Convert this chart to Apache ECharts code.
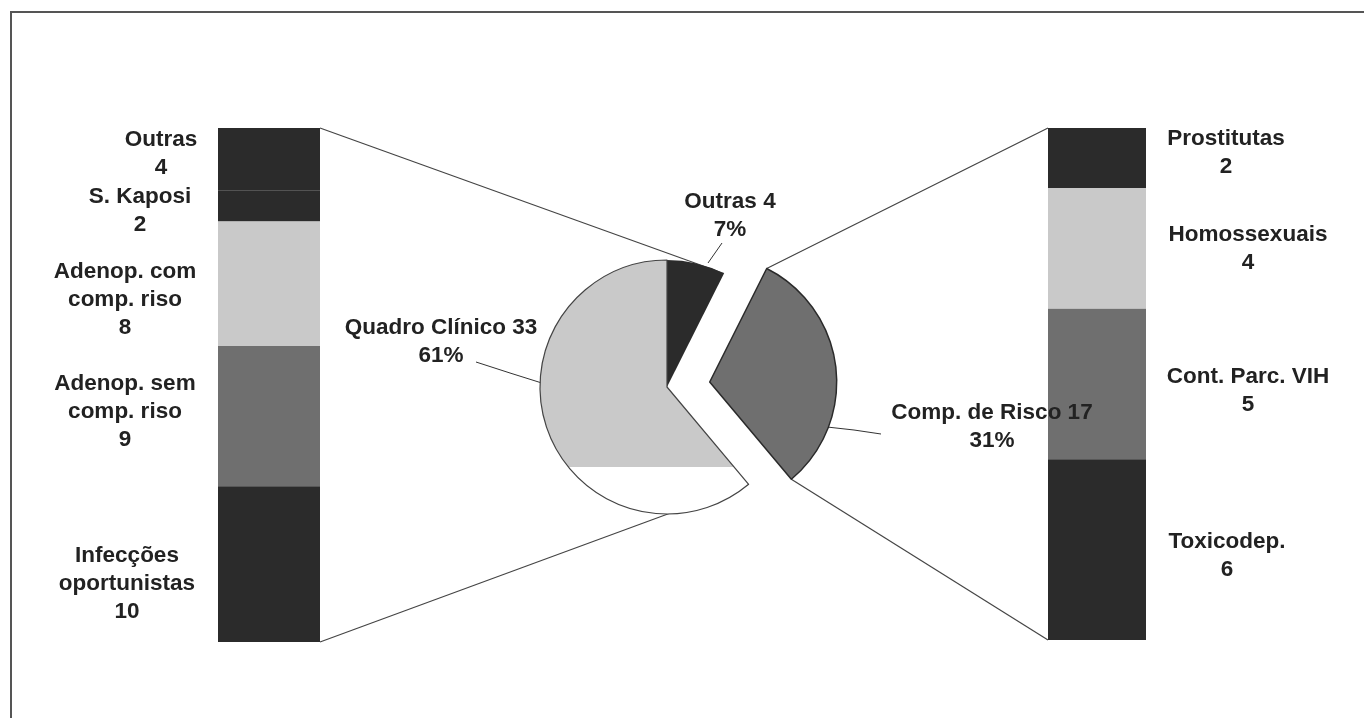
<!DOCTYPE html>
<html>
<head>
<meta charset="utf-8">
<script src="https://cdn.jsdelivr.net/npm/echarts@6/dist/echarts.min.js"></script>
<style>
  html, body { margin: 0; padding: 0; background: #fff; }
  #chart { width: 1364px; height: 718px; }
</style>
</head>
<body>
<div id="chart"></div>
<script>
// dados
const pieNames = ['Outras', 'Comp. de Risco', 'Quadro Clínico'];
const pieValues = [4, 17, 33];

const leftNames = ['Outras', 'S. Kaposi', 'Adenop. com\ncomp. riso', 'Adenop. sem\ncomp. riso', 'Infecções\noportunistas'];
const leftValues = [4, 2, 8, 9, 10];

const rightNames = ['Prostitutas', 'Homossexuais', 'Cont. Parc. VIH', 'Toxicodep.'];
const rightValues = [2, 4, 5, 6];

// estilo / posições
const BLACK = '#2b2b2b', LIGHT = '#c9c9c9', MID = '#6f6f6f';
const leftColors = [BLACK, BLACK, LIGHT, MID, BLACK];
const rightColors = [BLACK, LIGHT, MID, BLACK];
const leftLabelShift = [[57, -5], [78, 5], [93, 16], [93, -4], [91, 20]];
const rightLabelShift = [[80, -5], [102, 0], [102, 7], [81, 6]];
const pieLabelPos = [[730, 216], [992, 427], [441, 342]];
const pieLeader = [
  [[708, 263], [715, 253], [722, 243]],
  [[827, 427], [854, 430], [881, 434]],
  [[545, 384], [510, 373], [476, 362]]
];

const FONT = { fontFamily: 'Liberation Sans, Arial, sans-serif', fontWeight: 'bold', fontSize: 22.5, lineHeight: 28, color: '#222' };

const CX = 667, CY = 387, R = 127, OFFSET = 43;
const EXPLODED = 1; // fatia destacada (Comp. de Risco)
const leftGrid = { left: 218, top: 128, width: 102, height: 514 };
const rightGrid = { left: 1048, top: 128, width: 98, height: 512 };

let chart = echarts.init(document.getElementById('chart'));

// geometria da tarte para as linhas de ligação
const total = pieValues.reduce((a, b) => a + b, 0);
const angles = [0];
pieValues.forEach(v => angles.push(angles[angles.length - 1] + v / total * 360));
const rad = d => d * Math.PI / 180;
const pt = (cx, cy, a) => [cx + R * Math.sin(rad(a)), cy - R * Math.cos(rad(a))];
const mid = (angles[1] + angles[2]) / 2;
const tipX = CX + OFFSET * Math.sin(rad(mid)), tipY = CY - OFFSET * Math.cos(rad(mid));
const compTop = pt(tipX, tipY, angles[1]);
const compBot = pt(tipX, tipY, angles[2]);
const mainTop = pt(CX, CY, angles[1]);
const mainBot = pt(CX, CY, angles[2]);

function line(a, b) {
  return { type: 'line', z: 1, silent: true, shape: { x1: a[0], y1: a[1], x2: b[0], y2: b[1] }, style: { stroke: '#444', lineWidth: 1.2 } };
}

function barSeries(names, values, colors, shifts, gridIdx, side) {
  return names.map((n, i) => ({
    name: n,
    type: 'bar',
    xAxisIndex: gridIdx,
    yAxisIndex: gridIdx,
    stack: 'g' + gridIdx,
    barWidth: '100%',
    itemStyle: { color: colors[i] },
    label: Object.assign({
      show: true,
      position: side,
      distance: shifts[i][0],
      offset: [0, shifts[i][1]],
      align: 'center',
      verticalAlign: 'middle',
      formatter: n + '\n' + values[i]
    }, FONT),
    data: [values[i]]
  }));
}

const quadroFill = new echarts.graphic.LinearGradient(0, 0, 0, 1, [
  { offset: 0, color: LIGHT }, { offset: 0.815, color: LIGHT },
  { offset: 0.815, color: '#ffffff' }, { offset: 1, color: '#ffffff' }
]);
const pieStyles = [
  { color: BLACK, borderWidth: 0 },
  { color: MID, borderColor: '#2a2a2a', borderWidth: 1.5 },
  { color: quadroFill, borderColor: '#444', borderWidth: 1.2 }
];
const hidden = { color: 'transparent', borderWidth: 0 };

// duas tartes: a principal e a fatia destacada (mesmos dados, centro deslocado)
function pieSeries(center, visible) {
  return {
    type: 'pie',
    z: 3,
    silent: true,
    center: center,
    radius: R,
    startAngle: 90,
    clockwise: true,
    avoidLabelOverlap: false,
    emphasis: { disabled: true },
    label: Object.assign({
      show: true,
      position: 'outside',
      align: 'center',
      formatter: p => p.name + ' ' + p.value + '\n' + Math.round(p.percent) + '%'
    }, FONT),
    labelLine: { show: true, lineStyle: { color: '#333', width: 1 } },
    labelLayout: p => ({
      x: pieLabelPos[p.dataIndex][0],
      y: pieLabelPos[p.dataIndex][1],
      align: 'center',
      verticalAlign: 'middle',
      labelLinePoints: pieLeader[p.dataIndex]
    }),
    data: pieNames.map((n, i) => {
      const show = visible(i);
      return {
        name: n,
        value: pieValues[i],
        itemStyle: show ? pieStyles[i] : hidden,
        label: { show: show },
        labelLine: { show: show }
      };
    })
  };
}

chart.setOption({
  animation: false,
  backgroundColor: '#fff',
  grid: [
    Object.assign({}, leftGrid),
    Object.assign({}, rightGrid)
  ],
  xAxis: [
    { type: 'category', gridIndex: 0, data: ['a'], show: false },
    { type: 'category', gridIndex: 1, data: ['a'], show: false }
  ],
  yAxis: [
    { type: 'value', gridIndex: 0, min: 0, max: leftValues.reduce((a, b) => a + b, 0), inverse: true, show: false },
    { type: 'value', gridIndex: 1, min: 0, max: rightValues.reduce((a, b) => a + b, 0), inverse: true, show: false }
  ],
  graphic: [
    { type: 'rect', silent: true, shape: { x: 11, y: 12, width: 1400, height: 800 }, style: { fill: 'none', stroke: '#555', lineWidth: 2 } },
    line([leftGrid.left + leftGrid.width, leftGrid.top], mainTop),
    line([leftGrid.left + leftGrid.width, leftGrid.top + leftGrid.height], mainBot),
    line(compTop, [rightGrid.left, rightGrid.top]),
    line(compBot, [rightGrid.left, rightGrid.top + rightGrid.height])
  ],
  series: barSeries(leftNames, leftValues, leftColors, leftLabelShift, 0, 'left')
    .concat(barSeries(rightNames, rightValues, rightColors, rightLabelShift, 1, 'right'))
    .concat([
      pieSeries([CX, CY], i => i !== EXPLODED),
      pieSeries([tipX, tipY], i => i === EXPLODED)
    ])
});

window.addEventListener('resize', function () {
  chart.resize();
});
</script>
</body>
</html>
